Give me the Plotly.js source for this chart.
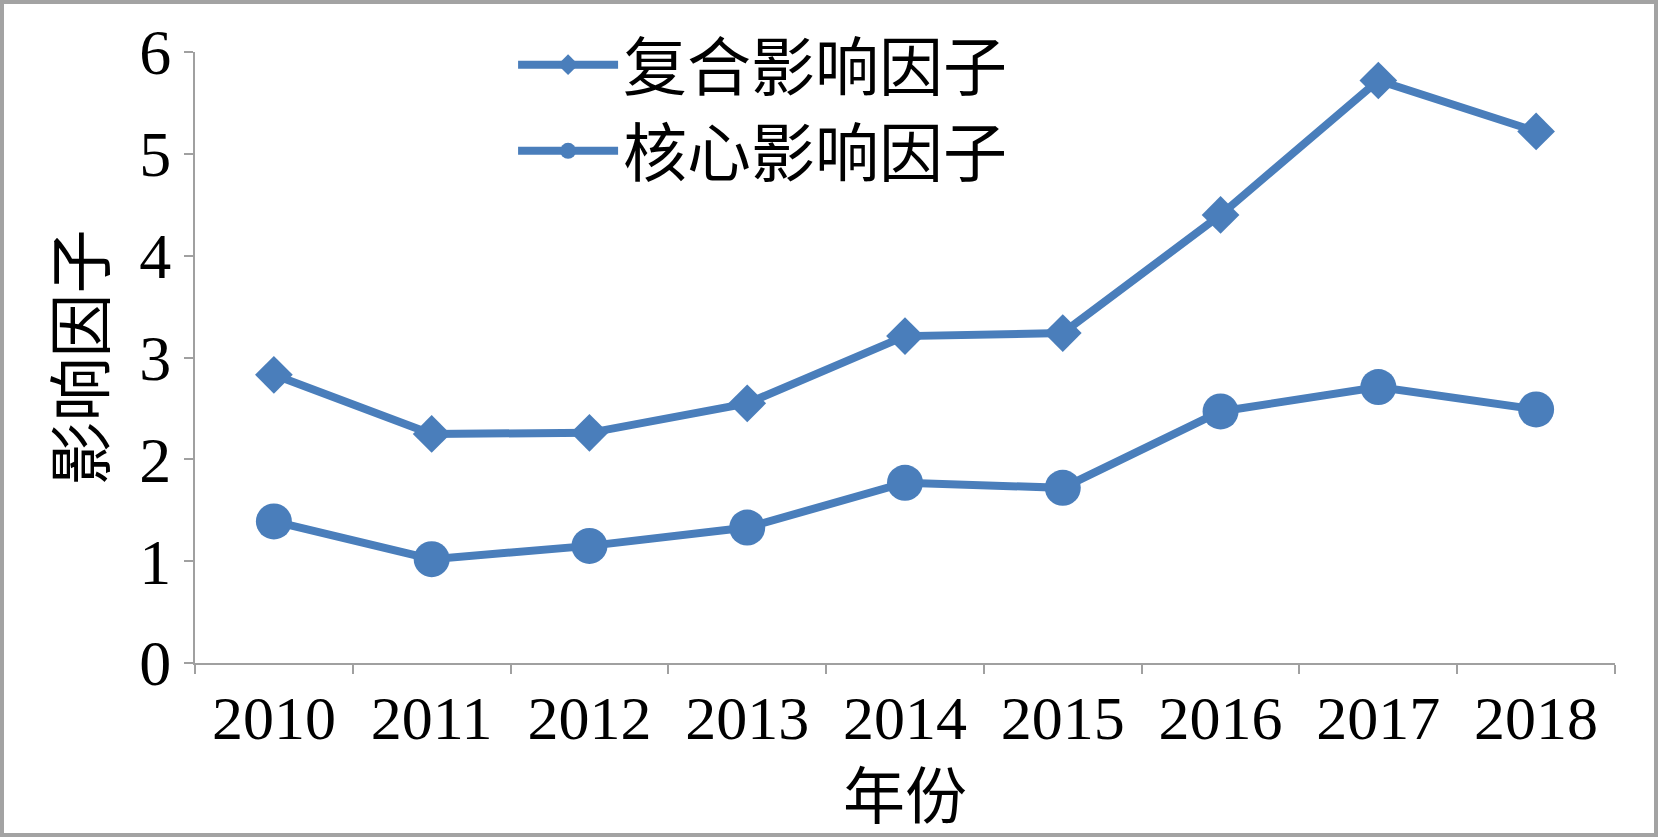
<!DOCTYPE html>
<html>
<head>
<meta charset="utf-8">
<script src="https://cdn.plot.ly/plotly-3.0.1.min.js"></script>
<style>
html,body{margin:0;padding:0;background:#fff;}
#frame{width:1658px;height:837px;box-sizing:border-box;border:4px solid #a3a3a3;position:relative;}
#chart{position:absolute;left:-4px;top:-4px;width:1658px;height:837px;}
</style>
</head>
<body>
<div id="frame"><div id="chart"></div></div>
<script>
const years = ['2010','2011','2012','2013','2014','2015','2016','2017','2018'];
const compositeName = '复合影响因子';
const coreName = '核心影响因子';
const compositeValues = [2.83, 2.25, 2.26, 2.55, 3.21, 3.24, 4.40, 5.72, 5.22];
const coreValues = [1.39, 1.02, 1.15, 1.33, 1.77, 1.72, 2.47, 2.71, 2.49];
const yTicks = [0, 1, 2, 3, 4, 5, 6];

const blue = '#4a7ebb';
const serif = '"Liberation Serif", "DejaVu Serif", serif';
const cjk = '"Noto Sans CJK SC", sans-serif';

const traces = [
  {x: years, y: compositeValues, name: compositeName, type: 'scatter', mode: 'lines+markers',
   line: {color: blue, width: 8}, marker: {symbol: 'diamond', size: 29, color: blue}},
  {x: years, y: coreValues, name: coreName, type: 'scatter', mode: 'lines+markers',
   line: {color: blue, width: 8}, marker: {symbol: 'circle', size: 36, color: blue}}
];

const layout = {
  width: 1658, height: 837,
  margin: {l: 195, r: 43, t: 52, b: 174},
  paper_bgcolor: 'rgba(0,0,0,0)', plot_bgcolor: '#fff',
  showlegend: true,
  legend: {x: 0.224, y: 1.058, xanchor: 'left', yanchor: 'top', bgcolor: 'rgba(0,0,0,0)',
    font: {family: cjk, size: 64, color: '#000'}, itemwidth: 100, tracegroupgap: 0},
  xaxis: {type: 'category', range: [-0.5, 8.5], tickson: 'boundaries', ticks: 'outside', ticklen: 9,
    tickcolor: '#a0a0a0', tickwidth: 2, showline: true, linecolor: '#a0a0a0', linewidth: 2,
    showgrid: false, zeroline: false, ticklabelstandoff: 0,
    tickfont: {family: serif, size: 62, color: '#000'},
    title: {text: '年份', font: {family: cjk, size: 62, color: '#000'}, standoff: 6}},
  yaxis: {range: [0, 6], tickvals: yTicks, ticktext: yTicks.map(String), ticks: 'outside', ticklen: 9,
    tickcolor: '#a0a0a0', tickwidth: 2, showline: true, linecolor: '#a0a0a0', linewidth: 2,
    showgrid: false, zeroline: false, ticklabelstandoff: 0,
    tickfont: {family: serif, size: 64, color: '#000'},
    title: {text: '影响因子', font: {family: cjk, size: 64, color: '#000'}, standoff: 14}}
};

Plotly.newPlot('chart', traces, layout, {displayModeBar: false, staticPlot: true});
</script>
</body>
</html>
